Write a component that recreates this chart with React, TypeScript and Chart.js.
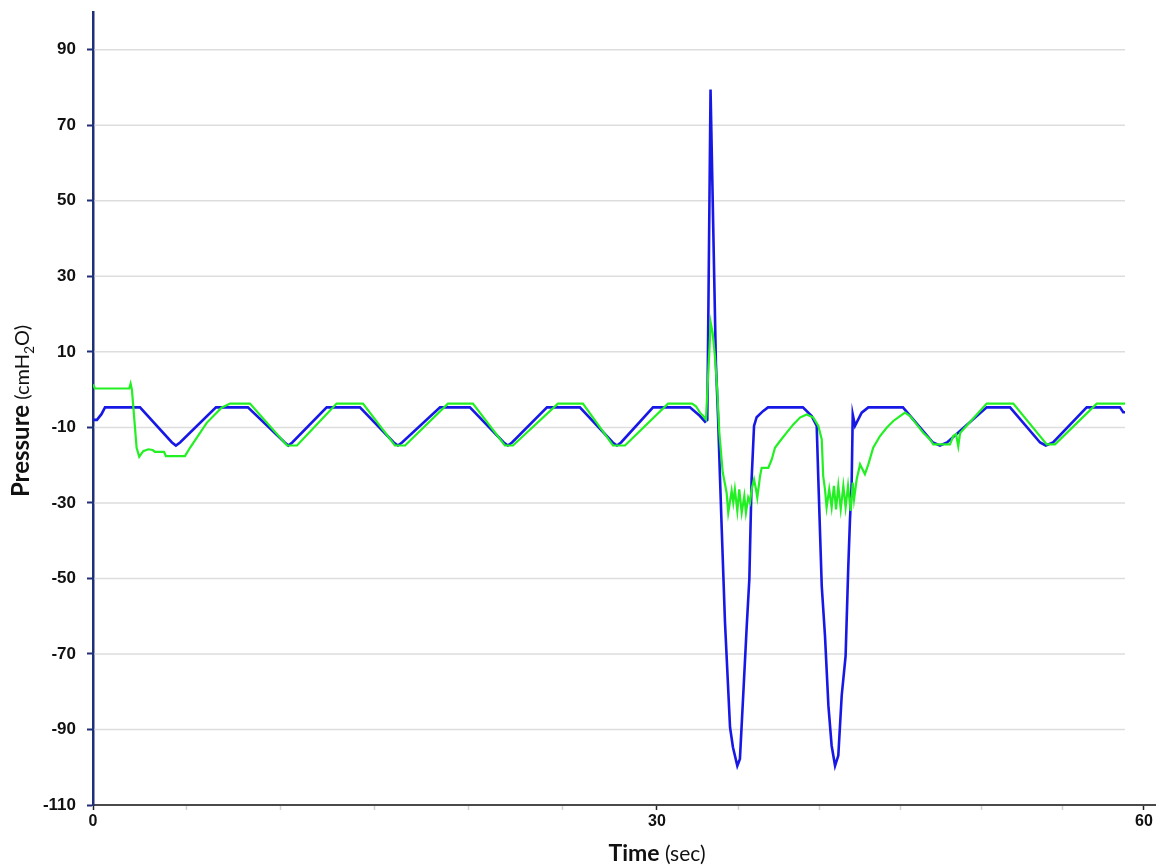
import React, { useEffect, useRef } from "react";
import { Chart, registerables, LinearScale } from "chart.js";

Chart.register(...registerables);

// ---------- data (time in seconds, pressure in cmH2O) ----------
const BLUE_TIME = [
  0, 0.21, 0.45, 0.64, 2.5, 4.2, 4.41, 4.63, 6.54,
  8.24, 10.2, 10.39, 10.6, 12.43,
  14.2, 16.0, 16.22, 16.44, 18.46,
  20.05, 21.85, 22.07, 22.29, 24.15,
  25.9, 27.65, 27.87, 28.09, 29.79,
  32.03, 32.65, 32.96, 33.1, 33.3, 33.63, 33.76, 33.88, 33.99,
  34.19, 34.5, 34.68, 34.95, 35.11, 35.3, 35.53, 35.69, 35.83, 35.98,
  36.14, 36.53, 36.84, 38.99, 39.53, 39.84, 39.94, 40.15, 40.35, 40.56,
  40.76, 40.97, 41.17, 41.38, 41.62, 41.78, 41.89, 41.99, 42.06, 42.2,
  42.61, 43.02, 45.15, 46.2, 47.0, 47.43, 47.87, 50.31, 51.75, 53.6,
  53.95, 54.4, 56.47, 58.52, 58.72, 58.83,
];
const BLUE_PRESSURE = [
  -8, -8, -6.5, -4.7, -4.7, -14, -14.8, -14, -4.7,
  -4.7, -14, -14.8, -14, -4.7,
  -4.7, -14, -14.8, -14, -4.7,
  -4.7, -14, -14.8, -14, -4.7,
  -4.7, -14, -14.8, -14, -4.7,
  -4.7, -7, -8.5, -8, 79.5, 7, -7, -23, -37,
  -61.6, -89.4, -94.7, -99.6, -97.8, -82, -62.6, -50.2, -23.8, -9.6,
  -7.3, -5.7, -4.7, -4.7, -7, -9.6, -23.8, -52, -65.2, -83.7,
  -94.3, -99.6, -96.9, -81, -70.5, -47.6, -34.3, -25.5, -6.6, -9.6,
  -6.1, -4.7, -4.7, -10, -14, -14.8, -14, -4.7, -4.7, -14,
  -14.8, -14, -4.7, -4.7, -6, -6,
];

const GREEN_TIME = [
  0, 0.1, 1.93, 2.0, 2.07, 2.32, 2.46, 2.67, 2.94, 3.17,
  3.3, 3.78, 3.88, 4.89, 5.16, 6.05, 6.84, 7.29, 8.35, 10.32,
  10.85, 12.96, 14.36, 16.06, 16.6, 18.88, 20.21, 21.91, 22.34, 24.73,
  26.06, 27.66, 28.3, 30.68, 32.16, 32.4, 32.65, 32.85, 33.02, 33.16,
  33.31, 33.43, 33.57, 33.71, 33.84, 34.05, 34.29, 34.39, 34.6, 34.7,
  34.8, 34.95, 35.07, 35.22, 35.38, 35.48, 35.62, 35.73, 35.83, 35.98,
  36.1, 36.18, 36.35, 36.45, 36.86, 37.07, 37.27, 37.58, 37.99, 38.4,
  38.81, 39.22, 39.63, 39.94, 40.15, 40.24, 40.35, 40.45, 40.61, 40.76,
  40.9, 41.03, 41.17, 41.32, 41.48, 41.62, 41.77, 41.93, 42.06, 42.14,
  42.3, 42.51, 42.81, 43.02, 43.32, 43.74, 44.15, 44.56, 44.97, 45.28,
  45.59, 46.0, 46.4, 46.82, 47.02, 48.05, 48.25, 48.42, 48.56, 48.67,
  50.31, 51.95, 54.01, 54.52, 57.09, 58.83,
];
const GREEN_PRESSURE = [
  1.4, 0.3, 0.3, 1.6, 0, -15.4, -17.8, -16.3, -15.8, -16,
  -16.5, -16.5, -17.6, -17.6, -15.4, -8.8, -4.8, -3.7, -3.7, -14.8,
  -14.8, -3.7, -3.7, -14.8, -14.8, -3.7, -3.7, -14.8, -14.8, -3.7,
  -3.7, -14.8, -14.8, -3.7, -3.7, -4.4, -6.1, -7, -7.9, 4.5,
  17.7, 15, 8.9, 0, -11.3, -21.9, -27.3, -32.6, -26.8, -29.9,
  -26.4, -32.1, -26.4, -32.6, -28.2, -32.6, -28.6, -29.9, -26.4, -23.8,
  -26.4, -28.6, -22.9, -20.7, -20.7, -18.5, -15.4, -13.6, -11.4, -9.2,
  -7.4, -6.6, -7.4, -9.6, -13.2, -22.9, -26.4, -31.2, -26.4, -31.2,
  -25.5, -31.7, -25.5, -31.7, -25.5, -31.2, -25.5, -32.1, -24.6, -29,
  -23.8, -19.8, -22.4, -19.8, -15.4, -12.3, -10.1, -8.3, -7, -6.1,
  -7, -9.2, -11.4, -13.2, -14.5, -14.5, -12.3, -11.8, -15, -11.5,
  -3.7, -3.7, -14.5, -14.5, -3.7, -3.7,
];

const Y_TICKS = [-110, -90, -70, -50, -30, -10, 10, 30, 50, 70, 90];
const X_TICKS = [0, 5, 10, 15, 20, 25, 30, 35, 40, 45, 50, 55, 60];
const X_LABELS = [0, 30, 60];

// ---------- axis configuration ----------
const Y_MIN = -110;
const Y_MAX = 100;
const X_MIN = 0;
const X_MAX = 60.74;
// the picture's time axis is stretched differently before and after 30 s
const X_SPLIT = 30;
const X_LEFT_STRETCH = 1.158;

const BLUE = "#1818e6";
const GREEN = "#22f022";
const GRID = "#dddddd";
const Y_AXIS_COLOR = "#1f2f78";
const X_AXIS_COLOR = "#4a4a4a";

class SplitLinearScale extends LinearScale {
  static id = "splitLinear";
  static defaults = LinearScale.defaults;
  warp(v: number) {
    return v <= X_SPLIT
      ? v * X_LEFT_STRETCH
      : X_SPLIT * X_LEFT_STRETCH + (v - X_SPLIT);
  }
  getPixelForValue(value: any) {
    if (value === null || value === undefined || isNaN(value)) return NaN;
    const a = this.warp(this.min);
    const b = this.warp(this.max);
    return this.getPixelForDecimal((this.warp(value) - a) / (b - a));
  }
  getValueForPixel(pixel: number) {
    const a = this.warp(this.min);
    const b = this.warp(this.max);
    const w = a + this.getDecimalForPixel(pixel) * (b - a);
    const ws = X_SPLIT * X_LEFT_STRETCH;
    return w <= ws ? w / X_LEFT_STRETCH : X_SPLIT + (w - ws);
  }
}
Chart.register(SplitLinearScale as any);

const toPoints = (t: number[], p: number[]) =>
  t.map((x, i) => ({ x, y: p[i] }));

const gridPlugin = {
  id: "partialGrid",
  beforeDatasetsDraw(chart: any) {
    const { ctx, chartArea, scales } = chart;
    const xEnd = scales.x.getPixelForValue(BLUE_TIME[BLUE_TIME.length - 1]);
    ctx.save();
    ctx.strokeStyle = GRID;
    ctx.lineWidth = 1.5;
    Y_TICKS.forEach((v) => {
      if (v === Y_MIN) return;
      const py = scales.y.getPixelForValue(v);
      ctx.beginPath();
      ctx.moveTo(chartArea.left + 1.5, py);
      ctx.lineTo(xEnd, py);
      ctx.stroke();
    });
    ctx.restore();
  },
};

type Part = { text: string; font: string; dy?: number };
function drawParts(ctx: CanvasRenderingContext2D, parts: Part[], cx: number, baseY: number) {
  let total = 0;
  parts.forEach((p) => {
    ctx.font = p.font;
    total += ctx.measureText(p.text).width;
  });
  let x = cx - total / 2;
  ctx.textBaseline = "alphabetic";
  ctx.textAlign = "left";
  parts.forEach((p) => {
    ctx.font = p.font;
    ctx.fillText(p.text, x, baseY + (p.dy || 0));
    x += ctx.measureText(p.text).width;
  });
}

const titlePlugin = {
  id: "axisTitles",
  afterDraw(chart: any) {
    const { ctx } = chart;
    ctx.save();
    ctx.fillStyle = "#111111";
    drawParts(
      ctx,
      [
        { text: "Time", font: "bold 23px Lato" },
        { text: " (sec)", font: "21px Lato" },
      ],
      657,
      861
    );
    ctx.translate(29, 411);
    ctx.rotate(-Math.PI / 2);
    drawParts(
      ctx,
      [
        { text: "Pressure", font: "bold 24px Lato" },
        { text: " (cmH", font: "20px Lato" },
        { text: "2", font: "14px Lato", dy: 5 },
        { text: "O)", font: "20px Lato" },
      ],
      0,
      0
    );
    ctx.restore();
  },
};

export default function App() {
  const ref = useRef<HTMLCanvasElement>(null);
  useEffect(() => {
    document.body.style.margin = "0";
    if (!ref.current) return;
    const chart = new Chart(ref.current, {
      type: "line",
      data: {
        datasets: [
          {
            label: "green",
            data: toPoints(GREEN_TIME, GREEN_PRESSURE),
            borderColor: GREEN,
            borderWidth: 2.2,
            pointRadius: 0,
            tension: 0,
          },
          {
            label: "blue",
            data: toPoints(BLUE_TIME, BLUE_PRESSURE),
            borderColor: BLUE,
            borderWidth: 2.6,
            pointRadius: 0,
            tension: 0,
          },
        ],
      },
      options: {
        responsive: false,
        animation: false,
        parsing: false as any,
        layout: { padding: { top: 12, left: 0, right: 0, bottom: 0 } },
        plugins: {
          legend: { display: false },
          tooltip: { enabled: false },
        },
        scales: {
          x: {
            type: "splitLinear" as any,
            min: X_MIN,
            max: X_MAX,
            afterBuildTicks: (s: any) => {
              s.ticks = X_TICKS.map((v) => ({ value: v }));
            },
            afterFit: (s: any) => {
              s.height = 63;
              s.paddingLeft = 0;
              s.paddingRight = 0;
            },
            grid: {
              drawOnChartArea: false,
              drawTicks: true,
              tickLength: 5,
              tickWidth: 1.5,
              tickColor: (c: any) =>
                X_LABELS.includes(c.tick?.value) ? "#222222" : "rgba(0,0,0,0.18)",
            },
            border: { color: X_AXIS_COLOR, width: 2 },
            ticks: {
              autoSkip: false,
              maxRotation: 0,
              padding: 2,
              color: "#111111",
              font: { family: "'Liberation Sans', Arial", weight: "bold", size: 16 },
              callback: (v: any) => (X_LABELS.includes(v) ? String(v) : ""),
            },
          } as any,
          y: {
            min: Y_MIN,
            max: Y_MAX,
            afterBuildTicks: (s: any) => {
              s.ticks = Y_TICKS.map((v) => ({ value: v }));
            },
            afterFit: (s: any) => {
              s.width = 93;
              s.paddingTop = 0;
              s.paddingBottom = 0;
            },
            grid: {
              drawOnChartArea: false,
              drawTicks: true,
              tickLength: 6,
              tickWidth: 2,
              tickColor: Y_AXIS_COLOR,
            },
            border: { color: Y_AXIS_COLOR, width: 2.5 },
            ticks: {
              padding: 11,
              color: "#111111",
              font: { family: "'Liberation Sans', Arial", weight: "bold", size: 17 },
            },
          },
        },
      },
      plugins: [gridPlugin, titlePlugin],
    });
    return () => chart.destroy();
  }, []);
  return (
    <div style={{ width: 1156, height: 868, position: "relative" }}>
      <canvas ref={ref} width={1156} height={868} style={{ display: "block" }} />
    </div>
  );
}
